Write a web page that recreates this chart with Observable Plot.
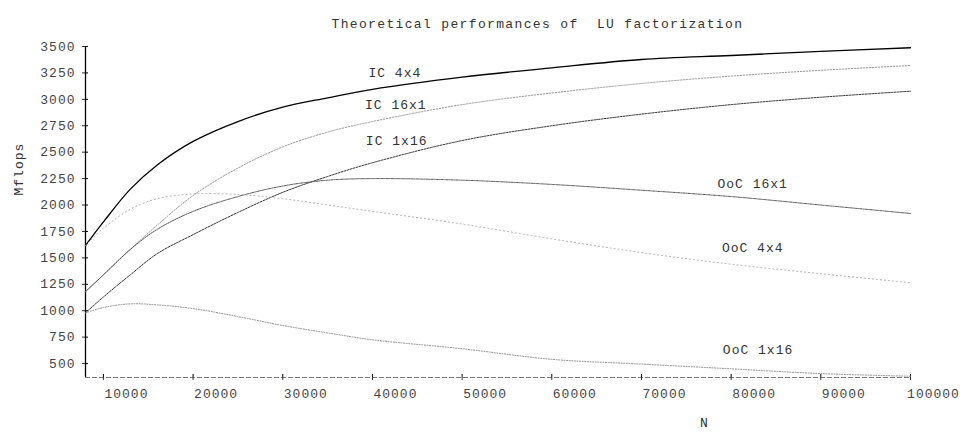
<!DOCTYPE html>
<html><head><meta charset="utf-8">
<script src="https://cdn.jsdelivr.net/npm/d3@7"></script>
<script src="https://cdn.jsdelivr.net/npm/@observablehq/plot@0.6"></script>
<style>body{margin:0;background:#fff}</style>
</head><body><div id="chart"></div>
<script>
// ---- data ----
const N = [8000,10000,13000,16000,20000,25000,30000,35000,40000,50000,60000,70000,80000,90000,100000];
const ic4x4   = [1617,1840,2150,2379,2602,2790,2926,3014,3095,3210,3298,3377,3415,3453,3488];
const ic16x1  = [1180,1340,1580,1810,2090,2350,2550,2690,2790,2950,3060,3150,3220,3275,3320];
const ic1x16  = [980,1130,1340,1540,1720,1930,2120,2270,2400,2610,2750,2860,2950,3020,3077];
const ooc16x1 = [1180,1340,1580,1770,1940,2080,2180,2235,2250,2235,2195,2140,2080,2000,1920];
const ooc4x4  = [1617,1780,1960,2060,2105,2100,2060,2000,1940,1820,1680,1550,1440,1350,1265];
const ooc1x16 = [980,1030,1065,1055,1020,945,860,790,725,640,540,495,450,405,380];

const seriesNames = ["IC 4x4","IC 16x1","IC 1x16","OoC 16x1","OoC 4x4","OoC 1x16"];
const seriesValues = [ic4x4, ic16x1, ic1x16, ooc16x1, ooc4x4, ooc1x16];

const yTicks = [500,750,1000,1250,1500,1750,2000,2250,2500,2750,3000,3250,3500];
const xTickMarks = [10000,20000,30000,40000,50000,60000,70000,80000,90000,100000];
const xTickLabels = [10000,20000,30000,40000,50000,60000,70000,80000,90000,100000];

const labelText = ["IC 4x4","IC 16x1","IC 1x16","OoC 16x1","OoC 4x4","OoC 1x16"];
const labelN = [42500,42600,42700,82400,82400,83000];
const labelMflops = [3254,2951,2610,2203,1598,632];

const titleText = "Theoretical performances of  LU factorization";
const yLabel = "Mflops";
const xLabel = "N";

// ---- styles ----
const styles = {
  "IC 4x4":   {stroke:"#000", strokeWidth:1.3},
  "IC 16x1":  {stroke:"#999", strokeWidth:1, strokeDasharray:"1.5,1.5"},
  "IC 1x16":  {stroke:"#333", strokeWidth:1, strokeDasharray:"2,1.2"},
  "OoC 16x1": {stroke:"#555", strokeWidth:1, strokeDasharray:"1.5,1"},
  "OoC 4x4":  {stroke:"#aaa", strokeWidth:1, strokeDasharray:"1,3"},
  "OoC 1x16": {stroke:"#888", strokeWidth:1, strokeDasharray:"1,1.6"}
};

const rows = [];
seriesNames.forEach((s, i) => N.forEach((n, j) => rows.push({series: s, N: n, v: seriesValues[i][j]})));
const labels = labelText.map((t, i) => ({t, N: labelN[i], v: labelMflops[i]}));

const lines = seriesNames.map(s => Plot.line(rows.filter(d => d.series === s), {
  x: "N", y: "v", curve: "catmull-rom", ...styles[s]
}));

const chart = Plot.plot({
  width: 967, height: 432,
  marginTop: 46, marginBottom: 55, marginLeft: 85, marginRight: 57,
  style: {fontFamily: "'Liberation Mono', monospace", fontSize: "13px", letterSpacing: "1px", color: "#333", background: "#fff"},
  x: {domain: [8000, 100000]},
  y: {domain: [368, 3500]},
  marks: [
    Plot.ruleY([368], {stroke: "#777", strokeDasharray: "5,2"}),
    Plot.ruleX([8000], {stroke: "#000", strokeWidth: 1.3}),
    Plot.axisY(yTicks, {tickSize: 3, tickPadding: 7, tickFormat: d => String(d), label: null, fill: "#444"}),
    Plot.tickY(yTicks, {y: d => d, insetRight: 822, stroke: "#000"}),
    Plot.axisX(xTickMarks, {tickSize: 3, tickFormat: () => "", label: null}),
    Plot.tickX(xTickMarks, {x: d => d, insetTop: 328, stroke: "#000"}),
    Plot.axisX(xTickLabels, {tickSize: 0, tickPadding: 11, dx: 23, tickFormat: d => String(d), label: null, fill: "#444"}),
    ...lines,
    Plot.text(labels, {x: "N", y: "v", text: "t", fill: "#333", fontSize: 13}),
    Plot.text([titleText], {frameAnchor: "top-left", dx: 246, dy: -28, textAnchor: "start", fill: "#333", fontSize: 13, style: {letterSpacing: "1.35px"}}),
    Plot.text([yLabel], {frameAnchor: "left", rotate: -90, dx: -67, dy: -16.5, fill: "#333", fontSize: 13}),
    Plot.text([xLabel], {frameAnchor: "bottom", dx: 206.5, dy: 49, fill: "#333", fontSize: 13})
  ]
});
chart.querySelectorAll("text").forEach(t => { if (t.textContent === titleText) t.setAttribute("letter-spacing", "1.35px"); });
document.getElementById("chart").appendChild(chart);
</script>
</body></html>
